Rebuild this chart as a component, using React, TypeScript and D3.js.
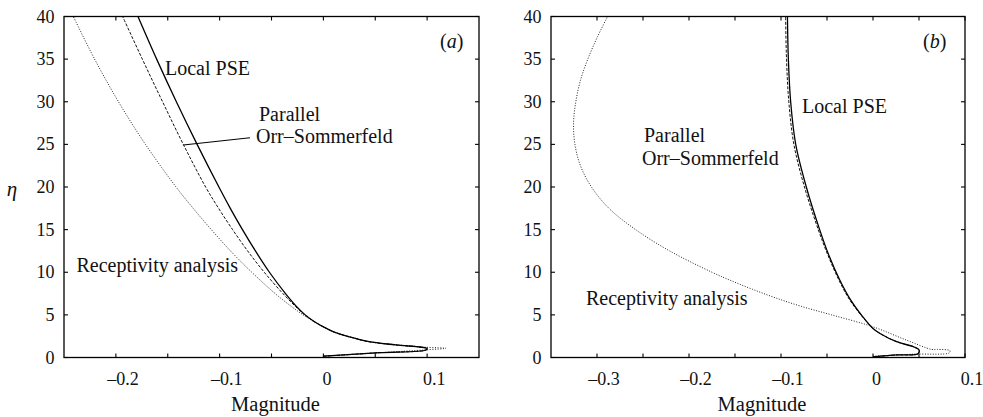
import React from 'react';
import * as d3 from 'd3';

// eta ticks shared by both panels
const etaTicks = [0, 5, 10, 15, 20, 25, 30, 35, 40];

// panel (a) x axis
const xTicksA = [-0.2, -0.15, -0.1, -0.05, 0, 0.05, 0.1];
const xLabelsA = [-0.2, -0.1, 0, 0.1];
// panel (b) x axis
const xTicksB = [-0.3, -0.25, -0.2, -0.15, -0.1, -0.05, 0, 0.05, 0.1];
const xLabelsB = [-0.3, -0.2, -0.1, 0, 0.1];

// series as [magnitude, eta]
const pseA: [number, number][] = [
  [0, 0.15], [0.054, 0.56], [0.099, 0.88], [0.1, 1.05], [0.07, 1.47], [0.044, 1.85],
  [0.025, 2.42], [0.01, 3.0], [0, 3.6], [-0.0085, 4.2], [-0.0175, 5], [-0.026, 6],
  [-0.0365, 7.5], [-0.052, 10], [-0.0655, 12.5], [-0.078, 15], [-0.0897, 17.5],
  [-0.1007, 20], [-0.1217, 25], [-0.1417, 30], [-0.1607, 35], [-0.1787, 40],
];
const osA: [number, number][] = [
  [0, 0.15], [0.054, 0.56], [0.099, 0.88], [0.1, 1.05], [0.07, 1.47], [0.044, 1.85],
  [0.025, 2.42], [0.01, 3.0], [0, 3.6], [-0.0085, 4.2], [-0.018, 5], [-0.027, 6],
  [-0.039, 7.5], [-0.057, 10], [-0.073, 12.5], [-0.0875, 15], [-0.101, 17.5],
  [-0.1135, 20], [-0.135, 25], [-0.155, 30], [-0.1745, 35], [-0.1935, 40],
];
const recA: [number, number][] = [
  [0, 0.15], [0.054, 0.56], [0.099, 0.9], [0.118, 1.08], [0.099, 1.2], [0.07, 1.5],
  [0.044, 1.87], [0.025, 2.45], [0.01, 3.0], [0, 3.6], [-0.009, 4.2], [-0.0195, 5],
  [-0.031, 6], [-0.0465, 7.5], [-0.069, 10], [-0.0895, 12.5], [-0.108, 15], [-0.1255, 17.5],
  [-0.142, 20], [-0.1715, 25], [-0.1975, 30], [-0.2205, 35], [-0.241, 40],
];

const pseB: [number, number][] = [
  [0, 0.07], [0.026, 0.3], [0.049, 0.45], [0.05, 0.9], [0.044, 1.26], [0.0257, 1.85],
  [0.0076, 2.82], [0, 3.4], [-0.011, 4.77], [-0.024, 6.7], [-0.036, 9.07], [-0.048, 12],
  [-0.058, 15], [-0.0725, 20], [-0.084, 25], [-0.0895, 30], [-0.092, 35], [-0.093, 40],
];
const osB: [number, number][] = [
  [0, 0.07], [0.026, 0.3], [0.049, 0.45], [0.05, 0.9], [0.044, 1.26], [0.0257, 1.85],
  [0.0076, 2.82], [0, 3.4], [-0.0115, 4.77], [-0.025, 6.7], [-0.037, 9.07], [-0.049, 12],
  [-0.0595, 15], [-0.0745, 20], [-0.086, 25], [-0.0915, 30], [-0.094, 35], [-0.095, 40],
];
const recB: [number, number][] = [
  [0, 0.15], [0.044, 0.39], [0.083, 0.55], [0.0836, 0.8], [0.07, 0.95], [0.0637, 0.95],
  [0.0366, 2.03], [0, 3.6], [-0.045, 5], [-0.078, 6], [-0.106, 7], [-0.131, 8],
  [-0.154, 9], [-0.175, 10], [-0.221, 12.5], [-0.258, 15], [-0.287, 17.5], [-0.306, 20],
  [-0.318, 22.5], [-0.324, 25], [-0.3255, 27.5], [-0.323, 30], [-0.318, 32.5], [-0.31, 35],
  [-0.3, 37.5], [-0.2885, 40],
];

const FONT = "'Liberation Serif', 'Times New Roman', Times, 'DejaVu Serif', serif";
const top = 16.5;
const bottom = 357.5;

const fmt = (d: number) => (d === 0 ? '0' : (d < 0 ? '\u2013' : '') + String(Math.abs(d)));

type Note = { text: string; x: number; y: number };

function Panel(props: {
  id: string;
  domain: [number, number];
  left: number;
  right: number;
  ticks: number[];
  labels: number[];
  series: { data: [number, number][]; dash: string; width: number; color: string }[];
  notes: Note[];
  tag: string;
  tagX: number;
  leader?: [number, number, number, number];
  showEta: boolean;
}) {
  const x = d3.scaleLinear().domain(props.domain).range([props.left, props.right]);
  const y = d3.scaleLinear().domain([0, 40]).range([bottom, top]);
  const line = d3
    .line<[number, number]>()
    .x((d) => x(d[0]))
    .y((d) => y(d[1]))
    .curve(d3.curveCatmullRom.alpha(0.5));
  const tl = 4;
  const mid = (props.left + props.right) / 2;
  return (
    <g fill="#111">
      <clipPath id={props.id}>
        <rect x={props.left} y={top} width={props.right - props.left} height={bottom - top} />
      </clipPath>
      <g clipPath={`url(#${props.id})`}>
        {props.series.map((s, i) => (
          <path key={i} d={line(s.data) || ''} fill="none" stroke={s.color}
            strokeWidth={s.width} strokeDasharray={s.dash} />
        ))}
      </g>
      <rect x={props.left} y={top} width={props.right - props.left} height={bottom - top}
        fill="none" stroke="#000" strokeWidth={1.3} />
      {props.ticks.map((t) => (
        <g key={'x' + t} stroke="#000" strokeWidth={1.1}>
          <line x1={x(t)} x2={x(t)} y1={bottom} y2={bottom - tl} />
          <line x1={x(t)} x2={x(t)} y1={top} y2={top + tl} />
        </g>
      ))}
      {etaTicks.map((t) => (
        <g key={'y' + t} stroke="#000" strokeWidth={1.1}>
          <line x1={props.left} x2={props.left + tl} y1={y(t)} y2={y(t)} />
          <line x1={props.right} x2={props.right - tl} y1={y(t)} y2={y(t)} />
        </g>
      ))}
      {props.labels.map((t) => (
        <text key={'xl' + t} x={x(t) + (t === 0 ? 3.5 : 7)} y={385} fontSize={18} textAnchor="middle">
          {fmt(t)}
        </text>
      ))}
      {etaTicks.map((t) => (
        <text key={'yl' + t} x={props.left - 9.5} y={y(t) + 6} fontSize={18} textAnchor="end">
          {t}
        </text>
      ))}
      <text x={mid + 4} y={411} fontSize={20.5} textAnchor="middle">Magnitude</text>
      {props.showEta && (
        <text x={12} y={196} fontSize={21} fontStyle="italic" textAnchor="middle">η</text>
      )}
      <text x={props.tagX} y={48} fontSize={20}>
        (<tspan fontStyle="italic">{props.tag}</tspan>)
      </text>
      {props.notes.map((n) => (
        <text key={n.text} x={n.x} y={n.y} fontSize={20}>{n.text}</text>
      ))}
      {props.leader && (
        <line x1={props.leader[0]} y1={props.leader[1]} x2={props.leader[2]} y2={props.leader[3]}
          stroke="#000" strokeWidth={1.1} />
      )}
    </g>
  );
}

const solid = { dash: 'none', width: 1.3, color: '#000' };
const dashed = { dash: '3 1.6', width: 1, color: '#111' };
const dotted = { dash: '1 1.6', width: 1, color: '#222' };

export default function App() {
  return (
    <svg width={983} height={417}
      style={{ position: 'absolute', left: 0, top: 0, background: '#fff', fontFamily: FONT }}>
      <Panel
        id="clipA"
        domain={[-0.25, 0.15]}
        left={64}
        right={479}
        ticks={xTicksA}
        labels={xLabelsA}
        series={[
          { data: recA, ...dotted },
          { data: osA, ...dashed },
          { data: pseA, ...solid },
        ]}
        notes={[
          { text: 'Local PSE', x: 165, y: 75 },
          { text: 'Parallel', x: 259, y: 121 },
          { text: 'Orr\u2013Sommerfeld', x: 256, y: 143 },
          { text: 'Receptivity analysis', x: 76.5, y: 271.5 },
        ]}
        leader={[183.3, 145, 250, 137.7]}
        tag="a"
        tagX={440}
        showEta
      />
      <Panel
        id="clipB"
        domain={[-0.35, 0.1]}
        left={551}
        right={965}
        ticks={xTicksB}
        labels={xLabelsB}
        series={[
          { data: recB, ...dotted },
          { data: osB, ...dashed },
          { data: pseB, ...solid },
        ]}
        notes={[
          { text: 'Local PSE', x: 802, y: 113 },
          { text: 'Parallel', x: 644, y: 142 },
          { text: 'Orr\u2013Sommerfeld', x: 642, y: 165 },
          { text: 'Receptivity analysis', x: 586, y: 305 },
        ]}
        tag="b"
        tagX={923}
        showEta={false}
      />
    </svg>
  );
}
